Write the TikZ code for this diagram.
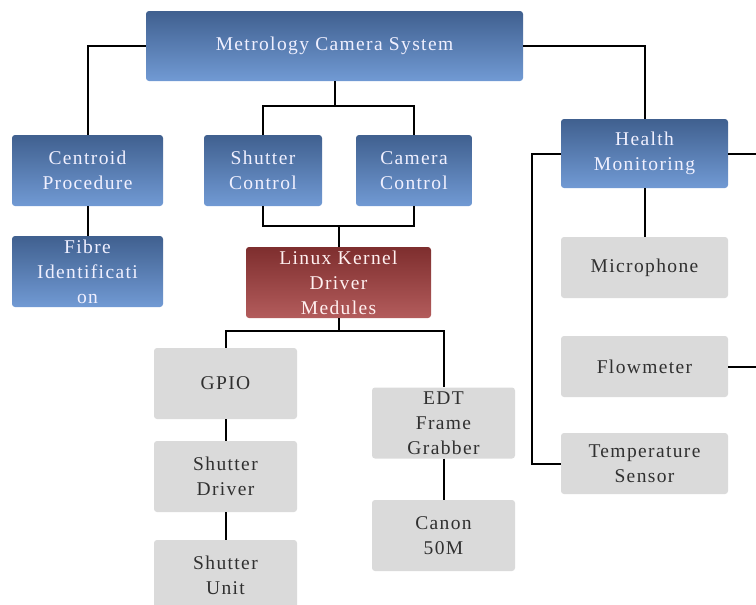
\documentclass[tikz,border=0pt]{standalone}
\usepackage{fontspec}
\setmainfont{Liberation Serif}[LetterSpace=7]
\usepackage{xcolor}
\usepackage{tikz}

\definecolor{bluetop}{HTML}{40608F}
\definecolor{bluebot}{HTML}{719AD4}
\definecolor{redtop}{HTML}{7E2E2E}
\definecolor{redbot}{HTML}{B35C5C}
\definecolor{greybg}{HTML}{DADADA}
\definecolor{greytxt}{HTML}{303030}

\begin{document}
\begin{tikzpicture}[x=1pt,y=-1pt,
  every node/.style={rounded corners=3pt,align=center,inner sep=0pt,
                     font=\fontsize{19.5}{25}\selectfont},
  bluebox/.style={top color=bluetop,bottom color=bluebot,text=white!94!blue},
  redbox/.style={top color=redtop,bottom color=redbot,text=white!94!red},
  greybox/.style={fill=greybg,text=greytxt,minimum width=167pt,minimum height=61pt},
  link/.style={line width=2pt,black}]
  \useasboundingbox (0,0) rectangle (756,605);
  \clip (0,0) rectangle (756,605);

  \node[bluebox,minimum width=377pt,minimum height=70pt] (sys) at (334.5,46) {Metrology Camera System};
  \node[bluebox,minimum width=151pt,minimum height=71pt] (cent) at (87.5,170.5) {Centroid\\Procedure};
  \node[bluebox,minimum width=151pt,minimum height=71pt] (fibre) at (87.5,271.5) {Fibre\\Identificati\\on};
  \node[bluebox,minimum width=118pt,minimum height=71pt] (shut) at (263,170.5) {Shutter\\Control};
  \node[bluebox,minimum width=116pt,minimum height=71pt] (cam) at (414,170.5) {Camera\\Control};
  \node[bluebox,minimum width=167pt,minimum height=69pt] (health) at (644.5,153.5) {Health\\Monitoring};
  \node[redbox,minimum width=185pt,minimum height=71pt] (kern) at (338.5,282.5) {Linux Kernel\\Driver\\Medules};

  % drivers and sensors
  \foreach \name/\x/\y/\txt in {gpio/225.5/383.5/{GPIO},
                                sdrv/225.5/476.5/{Shutter\\Driver},
                                sunit/225.5/575.5/{Shutter\\Unit},
                                edt/443.5/423/{EDT\\Frame\\Grabber},
                                canon/443.5/535.5/{Canon\\50M}}{
    \node[greybox,minimum width=143pt,minimum height=71pt] (\name) at (\x,\y) {\txt};
  }
  \foreach \name/\y/\txt in {mic/267.5/{Microphone},
                             flow/366.5/{Flowmeter},
                             temp/463.5/{Temperature\\Sensor}}{
    \node[greybox] (\name) at (644.5,\y) {\txt};
  }

  \coordinate (j1) at (334.5,106);
  \coordinate (j2) at (338.5,226);
  \coordinate (j3) at (338.5,331);
  \coordinate (e1) at (760,153.5);
  \coordinate (e2) at (760,366.5);

  \draw[link] (sys.west) -| (cent.north);
  \draw[link] (sys.east) -| (health.north);
  \draw[link] (sys.south) -- (j1);
  \draw[link] (shut.north) |- (j1) -| (cam.north);
  \draw[link] (shut.south) |- (j2) -| (cam.south);
  \draw[link] (j2) -- (kern.north);
  \draw[link] (kern.south) -- (j3);
  \draw[link] (gpio.north) |- (j3) -| (edt.north);
  \draw[link] (cent) -- (fibre);
  \draw[link] (gpio) -- (sdrv);
  \draw[link] (sdrv) -- (sunit);
  \draw[link] (edt) -- (canon);
  \draw[link] (health) -- (mic);
  \draw[link] (health.west) -- ++(-29,0) |- (temp.west);
  \draw[link] (health.east) -- (e1);
  \draw[link] (flow.east) -- (e2);
\end{tikzpicture}
\end{document}
